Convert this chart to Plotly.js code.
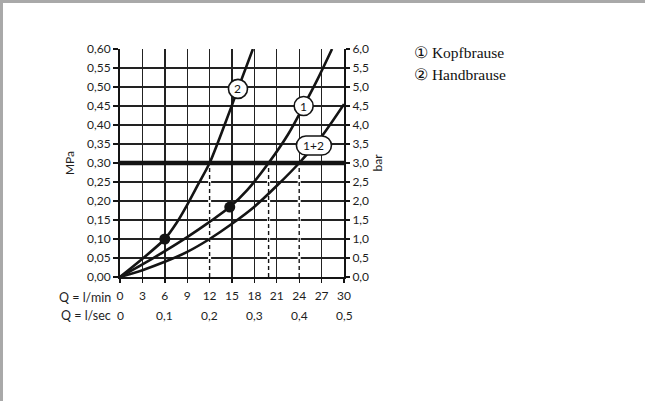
<!DOCTYPE html>
<html>
<head>
<meta charset="utf-8">
<script src="https://cdn.plot.ly/plotly-3.0.1.min.js"></script>
<style>
html,body{margin:0;padding:0;background:#fff;}
#chart{position:absolute;left:0;top:0;width:645px;height:401px;}
#frame{position:absolute;left:0;top:0;width:645px;height:401px;box-sizing:border-box;
  border-top:3px solid #a9a9a9;border-left:3px solid #a9a9a9;pointer-events:none;}
</style>
</head>
<body>
<div id="chart"></div>
<div id="frame"></div>
<script>
// ---- data ----
const flowLmin = [0, 3, 6, 9, 12, 15, 18, 21, 24, 27, 30];   // Q = l/min tick labels
const flowLsec = [0, 0.1, 0.2, 0.3, 0.4, 0.5];                 // Q = l/sec tick labels

// curve 1: Kopfbrause
const kopfQ = [0, 3, 6, 9, 12, 14.7, 17, 19.9, 22.5, 24.6, 26.5, 28.4];
const kopfP = [0, 0.033, 0.068, 0.105, 0.145, 0.184, 0.228, 0.30, 0.375, 0.45, 0.522, 0.60];
// curve 2: Handbrause
const handQ = [0, 3, 6, 7.5, 9, 10.5, 12, 14, 15.8, 17.8];
const handP = [0, 0.048, 0.10, 0.14, 0.19, 0.245, 0.30, 0.40, 0.495, 0.60];
// curve 1+2
const bothQ = [0, 3, 6, 9, 12, 15, 18, 21, 24, 27, 30];
const bothP = [0, 0.018, 0.040, 0.066, 0.10, 0.14, 0.185, 0.24, 0.30, 0.37, 0.455];

// minimum-flow dots
const dotQ = [6, 14.7];
const dotP = [0.10, 0.184];

// reference pressure (thick line)
const refPressure = 0.30;

// curve labels and the pressure at which each label sits on its curve
const curveLabels = ['1', '2', '1+2'];
const labelPressure = [0.45, 0.495, 0.346];

// legend
const legendMarks = ['\u2460', '\u2461'];
const legendNames = ['Kopfbrause', 'Handbrause'];

// ---- helpers ----
function qAtP(qs, ps, p) {
  for (let i = 1; i < ps.length; i++) {
    if (ps[i] >= p) {
      const t = (p - ps[i-1]) / (ps[i] - ps[i-1]);
      return qs[i-1] + t * (qs[i] - qs[i-1]);
    }
  }
  return qs[qs.length-1];
}
function pillPath(halfW, r) {
  const k = 0.5523 * r, s = halfW - r;
  return `M ${-s},${-r} L ${s},${-r} C ${s+k},${-r} ${halfW},${-k} ${halfW},0 ` +
         `C ${halfW},${k} ${s+k},${r} ${s},${r} L ${-s},${r} ` +
         `C ${-s-k},${r} ${-halfW},${k} ${-halfW},0 C ${-halfW},${-k} ${-s-k},${-r} ${-s},${-r} Z`;
}

const INK = '#141414';
const TXT = '#1e1e1e';
const FS = 12;
const curves = [[kopfQ, kopfP], [handQ, handP], [bothQ, bothP]];

const traces = curves.map(([q, p]) => ({
  x: q, y: p, type: 'scatter', mode: 'lines',
  line: {color: INK, width: 2.6, shape: 'spline', smoothing: 0.8},
  hoverinfo: 'skip'
}));
traces.push({
  x: dotQ, y: dotP, type: 'scatter', mode: 'markers',
  marker: {color: INK, size: 11}, hoverinfo: 'skip'
});
// invisible trace to carry the bar axis
traces.push({
  x: kopfQ, y: kopfP.map(v => v * 10), yaxis: 'y2', type: 'scatter', mode: 'lines',
  line: {width: 0}, opacity: 0, hoverinfo: 'skip'
});

const shapes = [];
// dashed drops at the reference pressure crossings
curves.forEach(([q, p]) => {
  const qc = qAtP(q, p, refPressure);
  shapes.push({type: 'line', xref: 'x', yref: 'y', x0: qc, x1: qc, y0: 0, y1: refPressure,
    line: {color: '#fff', width: 3}, layer: 'between'});
  shapes.push({type: 'line', xref: 'x', yref: 'y', x0: qc, x1: qc, y0: 0, y1: refPressure,
    line: {color: INK, width: 1.4, dash: '4px,3px'}, layer: 'between'});
});
// thick reference line
shapes.push({type: 'line', xref: 'x', yref: 'y', x0: 0, x1: 30, y0: refPressure, y1: refPressure,
  line: {color: INK, width: 4.5}, layer: 'between'});

const annotations = [];
// curve label bubbles
curves.forEach(([q, p], i) => {
  const lp = labelPressure[i];
  const lq = qAtP(q, p, lp);
  const halfW = curveLabels[i].length > 1 ? 17.5 : 9.5;
  shapes.push({type: 'path', xref: 'x', yref: 'y', xsizemode: 'pixel', ysizemode: 'pixel',
    xanchor: lq, yanchor: lp, path: pillPath(halfW, 9.5),
    fillcolor: '#fff', line: {color: INK, width: 1.6}, layer: 'above'});
  annotations.push({x: lq, y: lp, xref: 'x', yref: 'y', text: curveLabels[i], showarrow: false,
    font: {size: 12, color: INK}, xanchor: 'center', yanchor: 'middle'});
});

// second flow row (l/sec) and row captions
const rowY1 = -20 / 228, rowY2 = -38 / 228;
flowLsec.forEach(v => {
  annotations.push({x: v * 60, xref: 'x', y: rowY2, yref: 'paper', showarrow: false,
    text: v === 0 ? '0' : v.toFixed(1).replace('.', ','), xanchor: 'center', yanchor: 'middle',
    font: {size: FS, color: TXT}});
});
annotations.push({x: -7 / 224, xref: 'paper', y: rowY1, yref: 'paper', showarrow: false,
  text: 'Q = l/min', xanchor: 'right', yanchor: 'middle', font: {size: 12.5, color: TXT}});
annotations.push({x: -7 / 224, xref: 'paper', y: rowY2, yref: 'paper', showarrow: false,
  text: 'Q = l/sec', xanchor: 'right', yanchor: 'middle', font: {size: 12.5, color: TXT}});

// legend entries
legendNames.forEach((name, i) => {
  annotations.push({x: 292 / 224, xref: 'paper', y: (277 - 52 - i * 22) / 228, yref: 'paper',
    showarrow: false, xanchor: 'left', yanchor: 'middle',
    text: legendMarks[i] + ' ' + name,
    font: {family: '"Liberation Serif", "Times New Roman", serif', size: 15.5, color: '#111'}});
});

const axisCommon = {
  showgrid: true, gridcolor: '#222', gridwidth: 1.4, zeroline: false,
  showline: true, linecolor: INK, linewidth: 2, ticks: 'outside', tickcolor: INK, tickwidth: 1.4,
  fixedrange: true, tickfont: {size: FS, color: TXT}
};

const layout = {
  width: 645, height: 401,
  margin: {l: 120, r: 301, t: 49, b: 124, pad: 0},
  paper_bgcolor: '#fff', plot_bgcolor: '#fff',
  separators: ', ',
  showlegend: false,
  font: {family: 'Lato, "Open Sans", "DejaVu Sans", sans-serif', size: FS, color: TXT},
  xaxis: Object.assign({}, axisCommon, {
    range: [0, 30], autorange: false, tickmode: 'array', tickvals: flowLmin,
    ticktext: flowLmin.map(String), ticklen: 4, ticklabelstandoff: 3
  }),
  yaxis: Object.assign({}, axisCommon, {
    range: [0, 0.6], autorange: false, tick0: 0, dtick: 0.05, tickformat: '.2f', ticklen: 5,
    title: {text: 'MPa', standoff: 10, font: {size: FS, color: TXT}}
  }),
  yaxis2: Object.assign({}, axisCommon, {
    range: [0, 6], autorange: false, tick0: 0, dtick: 0.5, tickformat: '.1f', ticklen: 4,
    overlaying: 'y', side: 'right', showgrid: false,
    title: {text: 'bar', standoff: 6, font: {size: FS, color: TXT}}
  }),
  shapes: shapes,
  annotations: annotations
};

Plotly.newPlot('chart', traces, layout, {staticPlot: true, displayModeBar: false});
</script>
</body>
</html>
